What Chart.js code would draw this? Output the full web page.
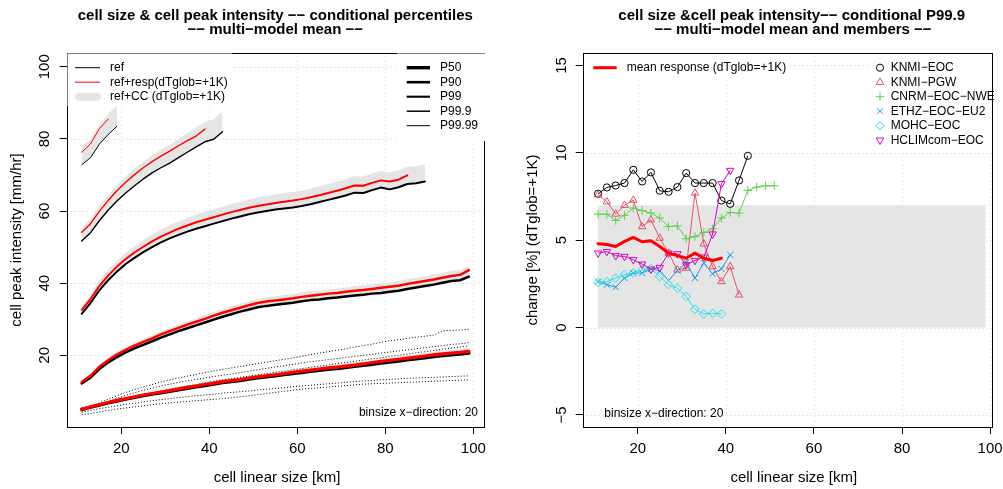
<!DOCTYPE html>
<html><head><meta charset="utf-8">
<script src="https://cdn.jsdelivr.net/npm/chart.js@4/dist/chart.umd.min.js"></script>
<style>
body{margin:0;background:#fff;width:1003px;height:489px;overflow:hidden;position:relative}
canvas{position:absolute;top:0}
</style></head><body>
<canvas id="c1" width="500" height="489" style="left:0"></canvas>
<canvas id="c2" width="503" height="489" style="left:500px"></canvas>
<script>
// ---------------- DATA ----------------
const xBins = [11,13,15,17,19,21,23,25,27,29,31,33,35,37,39,41,43,45,47,49,51,53,55,57,59,61,63,65,67,69,71,73,75,77,79,81,83,85,87,89,91,93,95,97,99];
const xTicks = [20,40,60,80,100];
const yTicksLeft = [20,40,60,80,100];
const yTicksRight = [-5,0,5,10,15];
const yTickLabelsRight = ['\u22125','0','5','10','15'];

// left panel: multi-model mean conditional percentiles
const p50Ref  = [5.0,5.6,6.2,6.8,7.3,7.8,8.3,8.8,9.2,9.6,10.0,10.4,10.8,11.2,11.6,12.0,12.4,12.7,13.0,13.4,13.7,14.0,14.3,14.6,14.9,15.2,15.5,15.8,16.1,16.3,16.6,16.9,17.2,17.5,17.8,18.1,18.4,18.7,19.0,19.3,19.6,19.9,20.1,20.3,20.6];
const p50Resp = [5.1,5.7,6.3,6.9,7.5,8.0,8.5,9.0,9.4,9.8,10.2,10.7,11.1,11.5,11.9,12.3,12.7,13.0,13.3,13.7,14.0,14.3,14.6,14.9,15.3,15.6,15.9,16.2,16.5,16.7,17.0,17.3,17.6,18.0,18.3,18.6,18.9,19.2,19.5,19.8,20.1,20.4,20.6,20.8,21.1];
const p50CC   = [5.4,6.0,6.6,7.3,7.8,8.3,8.9,9.4,9.8,10.3,10.7,11.1,11.6,12.0,12.4,12.8,13.3,13.6,13.9,14.3,14.7,15.0,15.3,15.6,15.9,16.3,16.6,16.9,17.2,17.4,17.8,18.1,18.4,18.7,19.0,19.4,19.7,20.0,20.3,20.7,21.0,21.3,21.5,21.7,22.0];

const p90Ref  = [12.2,13.8,16.2,18.0,19.5,20.8,21.9,22.9,23.9,24.9,25.8,26.7,27.5,28.3,29.1,29.9,30.7,31.4,32.1,32.7,33.3,33.7,34.0,34.3,34.6,35.0,35.3,35.5,35.8,36.0,36.3,36.6,36.8,37.1,37.3,37.6,37.9,38.4,38.8,39.2,39.6,40.1,40.6,40.8,41.8];
const p90Resp = [12.6,14.3,16.8,18.6,20.2,21.5,22.7,23.7,24.7,25.8,26.7,27.6,28.5,29.3,30.1,31.0,31.8,32.5,33.2,33.9,34.5,34.9,35.2,35.5,35.8,36.2,36.5,36.8,37.1,37.3,37.6,37.9,38.1,38.4,38.7,39.0,39.3,39.8,40.2,40.6,41.0,41.5,42.0,42.3,43.6];
const p90CC   = [13.1,14.8,17.3,19.3,20.9,22.3,23.4,24.5,25.6,26.6,27.6,28.6,29.4,30.3,31.1,32.0,32.8,33.6,34.3,35.0,35.6,36.1,36.4,36.7,37.0,37.5,37.8,38.0,38.3,38.5,38.8,39.2,39.4,39.7,39.9,40.2,40.6,41.1,41.5,41.9,42.4,42.9,43.4,43.7,44.7];

const p99Ref  = [31.5,34.5,38.0,40.8,43.2,45.3,47.0,48.6,50.0,51.3,52.4,53.4,54.3,55.1,55.8,56.5,57.2,57.9,58.5,59.1,59.6,60.0,60.4,60.7,61.0,61.4,61.9,62.5,63.1,63.7,64.3,65.1,65.0,65.8,66.5,66.0,66.6,67.5,67.7,68.2];
const p99Resp = [32.6,35.6,39.2,42.1,44.6,46.7,48.5,50.1,51.6,52.9,54.0,55.1,56.0,56.9,57.6,58.3,59.0,59.7,60.3,60.9,61.4,61.8,62.2,62.6,62.9,63.3,63.8,64.4,65.0,65.6,66.3,67.1,67.0,67.8,68.5,68.2,68.7,69.9];
const p99CC   = [33.7,36.9,40.7,43.7,46.2,48.5,50.3,52.0,53.5,54.9,56.1,57.1,58.1,59.0,59.7,60.5,61.2,62.0,62.6,63.2,63.8,64.2,64.6,65.0,65.3,65.7,66.2,66.9,67.5,68.2,68.8,69.7,69.6,70.4,71.2,70.6,71.3,72.2,72.4,73.0];

const p999Ref  = [51.7,54.0,57.3,60.2,62.8,65.0,67.0,68.9,70.6,72.0,73.3,74.8,76.3,77.8,79.2,79.9,82.0];
const p999Resp = [54.1,56.5,59.9,62.9,65.6,68.0,70.1,72.0,73.7,75.2,76.6,78.1,79.5,80.8,82.7];
const p999CC   = [55.3,57.8,61.3,64.4,67.2,69.6,71.7,73.7,75.5,77.0,78.4,80.0,81.6,83.2,84.7,85.5,87.7];

const p9999Ref  = [72.8,74.8,78.5,81.2,83.5];
const p9999Resp = [76.3,78.6,82.8,85.5];
const p9999CC   = [77.9,80.0,84.0,86.9,89.3];

// dotted lines (members, P50)
const dotted1 = [4.8,5.8,6.8,7.8,8.8,9.7,10.5,11.2,11.9,12.6,13.2,13.7,14.2,14.7,15.2,15.7,16.1,16.5,16.9,17.3,17.7,18.1,18.5,18.9,19.3,19.7,20.2,20.6,21.0,21.4,21.8,22.3,22.7,23.1,23.6,24.0,24.3,24.7,25.0,25.3,25.6,26.8,26.9,27.0,27.2];
const dotted2 = [4.5,5.4,6.3,7.2,8.1,8.9,9.6,10.3,10.9,11.5,12.0,12.5,12.9,13.3,13.7,14.1,14.5,14.8,15.2,15.6,16.0,16.4,16.8,17.1,17.5,17.9,18.2,18.5,18.8,19.1,19.4,19.7,20.0,20.3,20.6,20.9,21.2,21.5,21.8,22.1,22.4,22.7,23.0,23.2,23.5];
const dotted3 = [4.6,5.3,6.0,6.7,7.4,8.0,8.6,9.1,9.6,10.1,10.6,11.0,11.5,11.9,12.4,12.8,13.2,13.5,13.9,14.2,14.6,14.9,15.3,15.6,16.0,16.3,16.7,17.0,17.3,17.7,18.0,18.3,18.7,19.0,19.3,19.7,20.0,20.3,20.7,21.0,21.3,21.7,22.0,22.3,22.6];
const dotted4 = [4.2,4.7,5.2,5.6,6.0,6.4,6.7,7.1,7.4,7.7,8.0,8.3,8.5,8.8,9.0,9.2,9.5,9.7,9.9,10.1,10.4,10.6,10.8,11.0,11.3,11.5,11.7,11.9,12.1,12.3,12.5,12.7,12.9,13.0,13.2,13.3,13.5,13.6,13.7,13.8,13.9,14.0,14.1,14.2,14.3];
const dotted5 = [3.5,3.9,4.3,4.7,5.1,5.4,5.7,6.0,6.3,6.6,6.8,7.0,7.2,7.4,7.6,7.8,8.0,8.2,8.5,8.8,9.1,9.4,9.7,10.0,10.3,10.6,10.8,11.0,11.2,11.4,11.6,11.8,12.0,12.1,12.2,12.3,12.4,12.5,12.6,12.7,12.8,12.9,13.0,13.1,13.2];

// right panel: change of P99.9 [%] per K
const ccRangeX = [11, 99];
const ccRangeY = [0, 7];
const meanResponse = [4.79,4.75,4.64,4.93,5.16,4.91,4.97,4.64,4.26,4.12,3.97,4.26,3.97,3.84,3.97];
const knmiEoc  = [7.66,8.02,8.13,8.27,9.03,8.36,8.88,7.83,7.77,8.04,8.84,8.27,8.27,8.27,7.27,7.08,8.42,9.83];
const knmiPgw  = [7.60,7.20,6.50,7.00,7.29,5.78,6.17,5.12,4.26,3.30,3.40,7.70,4.79,3.49,2.63,3.49,1.87];
const cnrmEoc  = [6.49,6.49,6.13,6.42,6.84,6.70,6.55,6.27,5.78,5.82,5.08,5.21,5.44,5.65,6.27,6.59,6.55,7.85,8.04,8.11,8.11];
const ethzEoc  = [2.63,2.45,2.31,2.83,3.12,3.12,3.34,3.26,2.69,3.26,3.72,2.83,3.69,3.08,3.36,4.16];
const mohcEoc  = [2.58,2.63,2.83,3.02,3.12,3.30,3.38,2.92,2.45,2.26,1.78,1.05,0.78,0.82,0.78];
const hclimEoc = [4.26,4.35,4.11,4.07,3.88,3.63,3.34,3.44,4.26,4.22,3.59,3.84,4.03,5.35,8.23,8.99];

// ---------------- STYLE / LAYOUT ----------------
const FONT = '"Liberation Sans", Arial, Helvetica, sans-serif';
const GRAY = '#E5E5E5';
const RED = '#FF0000';
const pts = ys => ys.map((y, i) => ({x: xBins[i], y}));

// left datasets
const leftSets = [];
function addL(ds) { leftSets.push(Object.assign({pointRadius:0, tension:0, borderCapStyle:'round', borderJoinStyle:'round', fill:false}, ds)); return leftSets.length - 1; }
const pctDefs = [
  {ref:p50Ref, resp:p50Resp, cc:p50CC, w:3.2},
  {ref:p90Ref, resp:p90Resp, cc:p90CC, w:2.5},
  {ref:p99Ref, resp:p99Resp, cc:p99CC, w:2},
  {ref:p999Ref, resp:p999Resp, cc:p999CC, w:1.4},
  {ref:p9999Ref, resp:p9999Resp, cc:p9999CC, w:1}
];
for (const p of pctDefs) {
  const ri = addL({data: pts(p.ref), borderColor:'#000', borderWidth:p.w, order:2});
  addL({data: pts(p.cc), borderWidth:0, borderColor:'rgba(0,0,0,0)', backgroundColor:GRAY, fill:ri, order:5});
  addL({data: pts(p.resp), borderColor:RED, borderWidth:p.w, order:1});
}
for (const d of [dotted1,dotted2,dotted3,dotted4,dotted5]) {
  addL({data: pts(d), borderColor:'#000', borderWidth:1, borderDash:[1,2], borderCapStyle:'butt', order:3});
}

// right datasets
const members = [
  {name:'KNMI\u2212EOC', data:knmiEoc, color:'#000000', style:'circle', rot:0, r:3.6},
  {name:'KNMI\u2212PGW', data:knmiPgw, color:'#DF536B', style:'triangle', rot:0, r:4.3},
  {name:'CNRM\u2212EOC\u2212NWE', data:cnrmEoc, color:'#61D04F', style:'cross', rot:0, r:4.3},
  {name:'ETHZ\u2212EOC\u2212EU2', data:ethzEoc, color:'#2297E6', style:'crossRot', rot:0, r:4.3},
  {name:'MOHC\u2212EOC', data:mohcEoc, color:'#28E2E5', style:'rectRot', rot:0, r:4.3},
  {name:'HCLIMcom\u2212EOC', data:hclimEoc, color:'#CD0BBC', style:'triangle', rot:180, r:4.3}
];
const rightSets = [{
  data:[{x:ccRangeX[0], y:ccRangeY[1]}, {x:ccRangeX[1], y:ccRangeY[1]}],
  borderWidth:0, pointRadius:0, backgroundColor:GRAY, fill:{value:ccRangeY[0]}, order:20
}];
members.forEach((m, i) => rightSets.push({
  data: pts(m.data), borderColor:m.color, borderWidth:1, tension:0,
  pointStyle:m.style, pointRotation:m.rot, pointRadius:m.r, pointBorderWidth:1,
  pointBorderColor:m.color, pointBackgroundColor:'rgba(0,0,0,0)', fill:false, order:10 - i
}));
rightSets.push({data: pts(meanResponse), borderColor:RED, borderWidth:3, pointRadius:0, tension:0, fill:false, order:1, borderJoinStyle:'round', borderCapStyle:'round'});

// ---------------- DRAW HELPERS ----------------
function line(ctx, x1, y1, x2, y2) { ctx.beginPath(); ctx.moveTo(x1, y1); ctx.lineTo(x2, y2); ctx.stroke(); }
function text(ctx, s, x, y, font, align, rot) {
  ctx.save(); ctx.font = font; ctx.fillStyle = '#000'; ctx.textAlign = align || 'center'; ctx.textBaseline = 'middle';
  ctx.translate(x, y); if (rot) ctx.rotate(rot); ctx.fillText(s, 0, 0); ctx.restore();
}
function marker(ctx, m, x, y) {
  ctx.save(); ctx.strokeStyle = m.color; ctx.fillStyle = 'rgba(0,0,0,0)'; ctx.lineWidth = 1;
  try { Chart.helpers.drawPoint(ctx, {pointStyle:m.style, rotation:m.rot, radius:m.r, borderWidth:1}, x, y); }
  catch (e) { ctx.beginPath(); ctx.arc(x, y, m.r, 0, Math.PI*2); ctx.stroke(); }
  ctx.restore();
}

function deco(o) {
  return {
    id: 'deco',
    beforeDatasetsDraw(chart) {
      const {ctx, chartArea:a} = chart; const sx = chart.scales.x, sy = chart.scales.y;
      ctx.save(); ctx.strokeStyle = '#D3D3D3'; ctx.lineWidth = 1; ctx.setLineDash([1,3]);
      for (const v of o.xTicks) { const p = Math.round(sx.getPixelForValue(v)) + 0.5; line(ctx, p, a.top, p, a.bottom); }
      for (const v of o.yTicks) { const p = Math.round(sy.getPixelForValue(v)) + 0.5; line(ctx, a.left, p, a.right, p); }
      ctx.restore();
    },
    afterDatasetsDraw(chart) {
      const {ctx, chartArea:a} = chart; const sx = chart.scales.x, sy = chart.scales.y;
      ctx.save();
      ctx.strokeStyle = '#000'; ctx.lineWidth = 1; ctx.setLineDash([]);
      ctx.strokeRect(Math.round(a.left)+0.5, Math.round(a.top)+0.5, Math.round(a.right)-Math.round(a.left), Math.round(a.bottom)-Math.round(a.top));
      ctx.translate(-o.off, 0);
      ctx.fillStyle = '#fff';
      for (const c of o.covers) ctx.fillRect(c[0], c[1], c[2]-c[0], c[3]-c[1]);
      o.legend(ctx);
      // tick labels
      const tf = '15px ' + FONT;
      for (const v of o.xTicks) text(ctx, String(v), sx.getPixelForValue(v) + o.off, o.xLabY, tf);
      o.yTicks.forEach((v, i) => text(ctx, o.yLabels[i], o.yLabX, sy.getPixelForValue(v), tf, 'center', -Math.PI/2));
      // titles
      text(ctx, o.title[0], o.titleX[0], 15.7, 'bold 15px ' + FONT);
      text(ctx, o.title[1], o.titleX[1], 30.3, 'bold 15px ' + FONT);
      text(ctx, o.xlab, o.xlabPos[0], o.xlabPos[1], '15px ' + FONT);
      text(ctx, o.ylab, o.ylabPos[0], o.ylabPos[1], '15px ' + FONT, 'center', -Math.PI/2);
      text(ctx, 'binsize x\u2212direction: 20', o.binPos[0], o.binPos[1], '12px ' + FONT, o.binAlign);
      ctx.restore();
    }
  };
}

function scaleOpts(min, max, ticks, pos, size) {
  return {
    type:'linear', min, max, position:pos,
    afterBuildTicks: s => { s.ticks = ticks.map(v => ({value:v})); },
    afterFit: s => { if (pos === 'bottom') s.height = size; else s.width = size; },
    ticks:{display:false},
    grid:{drawOnChartArea:false, drawTicks:true, tickLength:7, tickColor:'#000', tickWidth:1},
    border:{display:false}
  };
}

function makeChart(id, datasets, xr, yr, yTicks, padRight, yWidth, plugin) {
  return new Chart(document.getElementById(id), {
    type:'line',
    data:{datasets},
    options:{
      responsive:false, animation:false, devicePixelRatio:1, events:[],
      layout:{padding:{top:52.7, right:padRight, bottom:0, left:0}},
      plugins:{legend:{display:false}, tooltip:{enabled:false}, title:{display:false}},
      scales:{
        x: scaleOpts(xr[0], xr[1], xTicks, 'bottom', 62),
        y: scaleOpts(yr[0], yr[1], yTicks, 'left', yWidth)
      }
    },
    plugins:[plugin]
  });
}

// ---------------- LEFT PANEL ----------------
const pctNames = ['P50','P90','P99','P99.9','P99.99'];
const pctLegendW = [3.4,2.6,2.1,1.5,1];
makeChart('c1', leftSets, [7.59, 102.43], [0.12, 103.9], yTicksLeft, 16, 66.7, deco({
  off:0, xTicks, yTicks:yTicksLeft, yLabels:yTicksLeft.map(String), xLabY:449, yLabX:45,
  title:['cell size & cell peak intensity \u2212\u2212 conditional percentiles', '\u2212\u2212 multi\u2212model mean \u2212\u2212'],
  titleX:[275.3, 275.3], xlab:'cell linear size [km]', xlabPos:[277, 478.3],
  ylab:'cell peak intensity [mm/hr]', ylabPos:[17, 240],
  binPos:[478, 412.7], binAlign:'right',
  covers:[[67.5, 53.5, 232, 106], [397, 53.5, 486, 141]],
  legend(ctx) {
    const f = '12px ' + FONT;
    ctx.save(); ctx.lineCap = 'butt';
    ctx.strokeStyle = '#000'; ctx.lineWidth = 1; line(ctx, 75, 67.7, 100, 67.7);
    ctx.strokeStyle = RED; line(ctx, 75, 82.2, 100, 82.2);
    ctx.lineCap = 'round'; ctx.strokeStyle = GRAY; ctx.lineWidth = 8; line(ctx, 79, 96.7, 97, 96.7);
    ctx.lineCap = 'butt'; ctx.strokeStyle = '#000';
    pctNames.forEach((n, i) => { ctx.lineWidth = pctLegendW[i]; line(ctx, 406.7, 67.7 + 14.5*i, 430, 67.7 + 14.5*i); });
    ctx.restore();
    text(ctx, 'ref', 110, 67.7, f, 'left');
    text(ctx, 'ref+resp(dTglob=+1K)', 110, 82.2, f, 'left');
    text(ctx, 'ref+CC (dTglob=+1K)', 110, 96.7, f, 'left');
    pctNames.forEach((n, i) => text(ctx, n, 440, 67.7 + 14.5*i, f, 'left'));
  }
}));

// ---------------- RIGHT PANEL ----------------
makeChart('c2', rightSets, [7.51, 100.36], [-5.69, 15.73], yTicksRight, 11.3, 82.7, deco({
  off:500, xTicks, yTicks:yTicksRight, yLabels:yTickLabelsRight, xLabY:449, yLabX:561.7,
  title:['cell size &cell peak intensity\u2212\u2212 conditional P99.9', '\u2212\u2212 multi\u2212model mean and members \u2212\u2212'],
  titleX:[791.7, 793], xlab:'cell linear size [km]', xlabPos:[793.8, 478.3],
  ylab:'change [%] (dTglob=+1K)', ylabPos:[533.3, 240],
  binPos:[604.3, 413.3], binAlign:'left',
  covers:[[584, 54, 787, 80], [870, 54, 991, 150]],
  legend(ctx) {
    const f = '12px ' + FONT;
    ctx.save(); ctx.strokeStyle = RED; ctx.lineWidth = 3; ctx.lineCap = 'butt';
    line(ctx, 593.3, 67.7, 616.7, 67.7); ctx.restore();
    text(ctx, 'mean response (dTglob=+1K)', 626.7, 67.7, f, 'left');
    members.forEach((m, i) => { const y = 67.7 + 14.5*i; marker(ctx, m, 880, y); text(ctx, m.name, 890.7, y, f, 'left'); });
  }
}));
</script>
</body></html>
